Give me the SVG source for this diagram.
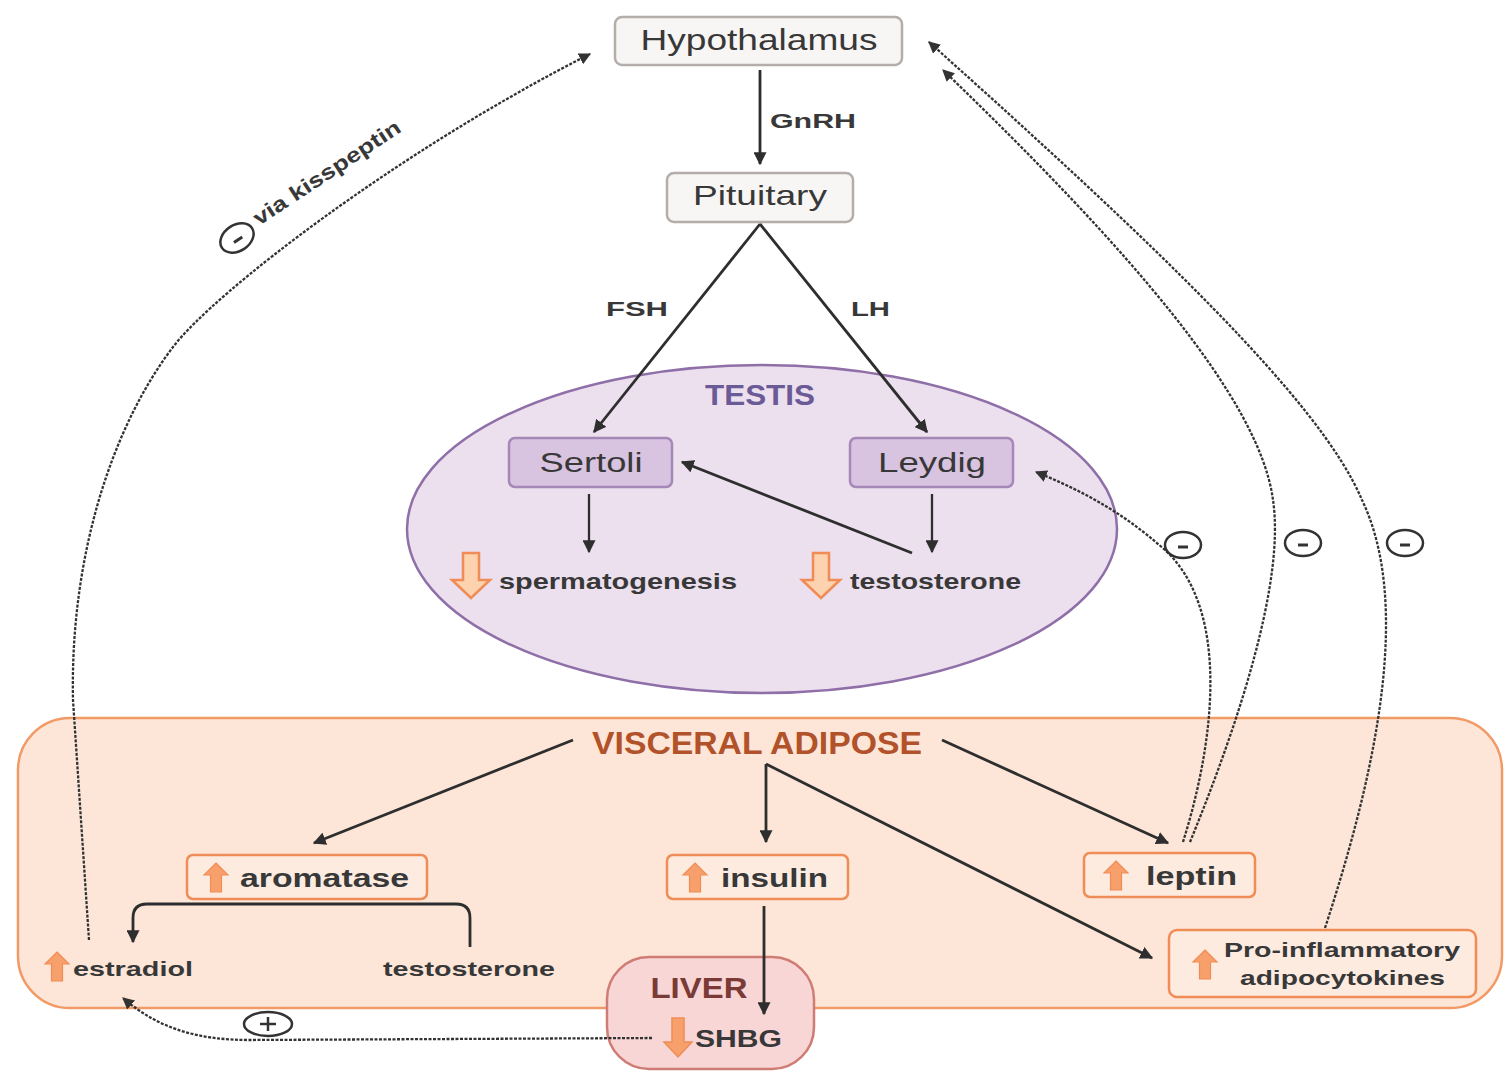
<svg xmlns="http://www.w3.org/2000/svg" width="1504" height="1071" viewBox="0 0 1504 1071">
<defs>
<style>
text{font-family:"Liberation Sans",Arial,sans-serif;fill:#383838}
.b{font-weight:bold}
.gbox{fill:#f8f6f5;stroke:#b5ada9;stroke-width:2.5}
.cell{fill:#d8c3e0;stroke:#a688b8;stroke-width:2.5}
.obox{fill:#fdebe0;stroke:#f08c55;stroke-width:2.5}
.solid{fill:none;stroke:#2e2e2e;stroke-width:2.8}
.dash{fill:none;stroke:#333333;stroke-width:2.3;stroke-dasharray:3 1.5}
.sign{fill:none;stroke:#333;stroke-width:2.5}
.darr{fill:#fdd2ae;stroke:#f08c55;stroke-width:2.5}
.uarr{fill:#f7a06c;stroke:#f08c55;stroke-width:1.2}
</style>
<marker id="ah" viewBox="0 0 10 10" refX="9" refY="5" markerWidth="13" markerHeight="13" markerUnits="userSpaceOnUse" orient="auto">
<path d="M0,0 L10,5 L0,10 z" fill="#2e2e2e"/>
</marker>
<marker id="ahd" viewBox="0 0 10 10" refX="9" refY="5" markerWidth="12" markerHeight="12" markerUnits="userSpaceOnUse" orient="auto">
<path d="M0,0 L10,5 L0,10 z" fill="#333333"/>
</marker>
<path id="down" d="M-8,0 H8 V27 H19 L0,45 L-19,27 H-8 Z"/>
<path id="up" d="M0,0 L12,12 H5.5 V29 H-5.5 V12 H-12 Z"/>
<g id="minus"><ellipse cx="0" cy="0" rx="18" ry="13" class="sign"/><line x1="-5" y1="2" x2="5" y2="2" stroke="#333" stroke-width="3"/></g>
</defs>
<rect width="1504" height="1071" fill="#ffffff"/>

<g id="testis">
<ellipse cx="762" cy="529" rx="355" ry="164" fill="#ecdfee" stroke="#8f6fa8" stroke-width="2.5"/>
<text x="760" y="405" class="b" font-size="30" text-anchor="middle" textLength="110" lengthAdjust="spacingAndGlyphs" style="fill:#6a5a96">TESTIS</text>
</g>

<g id="adipose">
<rect x="18" y="718" width="1484" height="290" rx="52" fill="#fde6d8" stroke="#f29a66" stroke-width="2.5"/>
<text x="757" y="754" class="b" font-size="31" text-anchor="middle" textLength="330" lengthAdjust="spacingAndGlyphs" style="fill:#b2522b">VISCERAL ADIPOSE</text>
</g>

<g id="hypothalamus">
<rect x="615" y="17" width="287" height="48" rx="7" class="gbox"/>
<text x="759" y="50" font-size="29" text-anchor="middle" textLength="237" lengthAdjust="spacingAndGlyphs">Hypothalamus</text>
</g>

<g id="pituitary">
<rect x="667" y="173" width="186" height="49" rx="7" class="gbox"/>
<text x="760" y="205" font-size="28" text-anchor="middle" textLength="134" lengthAdjust="spacingAndGlyphs">Pituitary</text>
</g>

<g id="sertoli">
<rect x="509" y="438" width="163" height="49" rx="6" class="cell"/>
<text x="591" y="472" font-size="27" text-anchor="middle" textLength="103" lengthAdjust="spacingAndGlyphs">Sertoli</text>
</g>

<g id="leydig">
<rect x="850" y="438" width="163" height="49" rx="6" class="cell"/>
<text x="932" y="472" font-size="27" text-anchor="middle" textLength="108" lengthAdjust="spacingAndGlyphs">Leydig</text>
</g>

<g id="spermatogenesis">
<use href="#down" x="471" y="553" class="darr"/>
<text x="499" y="589" class="b" font-size="22" textLength="238" lengthAdjust="spacingAndGlyphs">spermatogenesis</text>
</g>

<g id="testosterone-testis">
<use href="#down" x="821" y="553" class="darr"/>
<text x="850" y="589" class="b" font-size="22" textLength="171" lengthAdjust="spacingAndGlyphs">testosterone</text>
</g>

<g id="aromatase">
<rect x="187" y="855" width="240" height="44" rx="6" class="obox"/>
<use href="#up" x="216" y="863" class="uarr"/>
<text x="240" y="887" class="b" font-size="25" textLength="169" lengthAdjust="spacingAndGlyphs">aromatase</text>
</g>

<g id="insulin">
<rect x="667" y="855" width="181" height="44" rx="6" class="obox"/>
<use href="#up" x="695" y="863" class="uarr"/>
<text x="721" y="887" class="b" font-size="25" textLength="107" lengthAdjust="spacingAndGlyphs">insulin</text>
</g>

<g id="leptin">
<rect x="1084" y="853" width="171" height="44" rx="6" class="obox"/>
<use href="#up" x="1116" y="861" class="uarr"/>
<text x="1146" y="885" class="b" font-size="25" textLength="91" lengthAdjust="spacingAndGlyphs">leptin</text>
</g>

<g id="proinflammatory">
<rect x="1169" y="930" width="307" height="67" rx="8" class="obox"/>
<use href="#up" x="1205" y="950" class="uarr"/>
<text x="1224" y="957" class="b" font-size="21" textLength="236" lengthAdjust="spacingAndGlyphs">Pro-inflammatory</text>
<text x="1240" y="985" class="b" font-size="21" textLength="205" lengthAdjust="spacingAndGlyphs">adipocytokines</text>
</g>

<g id="estradiol">
<use href="#up" x="57" y="952" class="uarr"/>
<text x="73" y="976" class="b" font-size="21" textLength="120" lengthAdjust="spacingAndGlyphs">estradiol</text>
</g>

<g id="testosterone-adipose">
<text x="383" y="976" class="b" font-size="21" textLength="172" lengthAdjust="spacingAndGlyphs">testosterone</text>
</g>

<g id="liver">
<rect x="607" y="957" width="207" height="112" rx="42" fill="#f8d6d6" stroke="#cf7c74" stroke-width="2.5"/>
<text x="699" y="998" class="b" font-size="29" text-anchor="middle" textLength="97" lengthAdjust="spacingAndGlyphs" style="fill:#7a3b36">LIVER</text>
<path d="M-6,0 H6 V24 H14 L0,39 L-14,24 H-6 Z" transform="translate(678,1018)" fill="#f7a06c" stroke="#f08c55" stroke-width="1.5"/>
<text x="695" y="1047" class="b" font-size="23" textLength="87" lengthAdjust="spacingAndGlyphs">SHBG</text>
</g>

<g id="connectors">
<path class="solid" d="M760,70 V164" marker-end="url(#ah)"/>
<text x="770" y="128" class="b" font-size="21" textLength="86" lengthAdjust="spacingAndGlyphs">GnRH</text>
<path class="solid" d="M760,224 L594,432" marker-end="url(#ah)"/>
<path class="solid" d="M760,224 L927,432" marker-end="url(#ah)"/>
<text x="606" y="316" class="b" font-size="21" textLength="62" lengthAdjust="spacingAndGlyphs">FSH</text>
<text x="851" y="316" class="b" font-size="21" textLength="39" lengthAdjust="spacingAndGlyphs">LH</text>
<path class="solid" d="M589,494 V552" marker-end="url(#ah)" style="stroke-width:2.3"/>
<path class="solid" d="M932,494 V552" marker-end="url(#ah)" style="stroke-width:2.3"/>
<path class="solid" d="M912,553 L682,462" marker-end="url(#ah)"/>

<path class="solid" d="M573,740 L314,843" marker-end="url(#ah)"/>
<path class="solid" d="M766,764 V842" marker-end="url(#ah)"/>
<path class="solid" d="M766,764 L1152,958" marker-end="url(#ah)"/>
<path class="solid" d="M942,740 L1168,843" marker-end="url(#ah)"/>
<path class="solid" d="M764,906 V1014" marker-end="url(#ah)"/>
<path class="solid" d="M470,947 V918 Q470,904 456,904 H147 Q133,904 133,918 V942" marker-end="url(#ah)"/>

<path class="dash" d="M89,940 L73,700 C70,560 110,430 173,347 C215,292 400,150 590,54" marker-end="url(#ahd)"/>
<use href="#minus" transform="translate(237,238) rotate(-33.5)"/>
<text transform="translate(259,226) rotate(-33.5)" class="b" font-size="21" textLength="172" lengthAdjust="spacingAndGlyphs">via kisspeptin</text>

<path class="dash" d="M652,1038 L250,1040 C200,1040 160,1030 123,998" marker-end="url(#ahd)"/>
<ellipse cx="268" cy="1024" rx="24" ry="12" class="sign"/>
<path d="M260,1024 H276 M268,1017 V1031" stroke="#333" stroke-width="2.5"/>

<path class="dash" d="M1183,842 C1215,740 1230,610 1165,550 C1120,510 1080,490 1036,472" marker-end="url(#ahd)"/>
<path class="dash" d="M1190,842 C1240,720 1285,580 1273,500 C1260,400 1130,250 943,70" marker-end="url(#ahd)"/>
<path class="dash" d="M1325,928 C1380,760 1410,600 1362,500 C1320,400 1150,240 929,42" marker-end="url(#ahd)"/>
<use href="#minus" x="1183" y="545"/>
<use href="#minus" x="1303" y="543"/>
<use href="#minus" x="1405" y="543"/>
</g>
</svg>
